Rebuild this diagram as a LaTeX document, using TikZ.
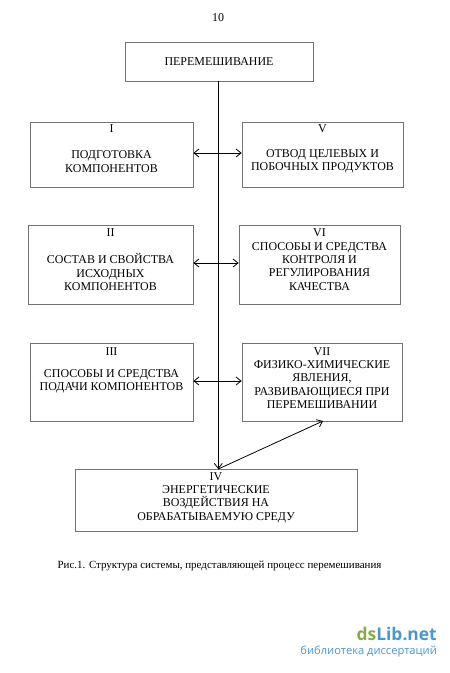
\documentclass[tikz,border=0pt]{standalone}
\usepackage{fontspec}
\setmainfont{Liberation Serif}
\newfontfamily\wmfont{Open Sans}
\usetikzlibrary{arrows.meta}
\definecolor{boxgray}{gray}{0.45}
\definecolor{wmgreen}{HTML}{8AAA4A}
\definecolor{wmblue}{HTML}{4A98CC}
\begin{document}
\begin{tikzpicture}[x=1bp,y=-1bp,
  box/.style={draw=boxgray, line width=0.7bp, rectangle, inner sep=0},
  txt/.style={font=\fontsize{12}{13.4}\selectfont, align=center, inner sep=0},
  num/.style={font=\fontsize{12}{13.4}\selectfont, inner sep=0},
  link/.style={line width=0.8bp, draw=black},
  tip/.style={-{Straight Barb[length=5bp,width=8bp]}},
  dtip/.style={{Straight Barb[length=5bp,width=8bp]}-{Straight Barb[length=5bp,width=8bp]}}]
\useasboundingbox (0,0) rectangle (450,673);
\fill[white] (0,0) rectangle (450,673);
\node[num] (page) at (218,18) {10};
% boxes
\node[box, minimum width=188bp, minimum height=39bp] (top) at (219,61.5) {};
\node[txt] (toptxt) at (219,62) {ПЕРЕМЕШИВАНИЕ};
\node[box, minimum width=163bp, minimum height=65bp] (b1) at (111.5,154.5) {};
\node[num] (n1) at (111.5,128.5) {I};
\node[txt] (t1) at (111.5,161.5) {ПОДГОТОВКА\\КОМПОНЕНТОВ};
\node[box, minimum width=161bp, minimum height=65bp] (b5) at (322.5,154.5) {};
\node[num] (n5) at (322.5,128.5) {V};
\node[txt] (t5) at (322.5,161.5) {ОТВОД ЦЕЛЕВЫХ И\\ПОБОЧНЫХ ПРОДУКТОВ};
\node[box, minimum width=165bp, minimum height=79bp] (b2) at (110.5,264.5) {};
\node[num] (n2) at (110.5,232.5) {II};
\node[txt] (t2) at (110.5,272) {СОСТАВ И СВОЙСТВА\\ИСХОДНЫХ\\КОМПОНЕНТОВ};
\node[box, minimum width=161bp, minimum height=79bp] (b6) at (319.5,264.5) {};
\node[txt] (t6) at (319.5,259.5) {VI\\СПОСОБЫ И СРЕДСТВА\\КОНТРОЛЯ И\\РЕГУЛИРОВАНИЯ\\КАЧЕСТВА};
\node[box, minimum width=163bp, minimum height=78bp] (b3) at (111.5,382) {};
\node[num] (n3) at (111.5,351.5) {III};
\node[txt] (t3) at (111.5,381.5) {СПОСОБЫ И СРЕДСТВА\\ПОДАЧИ КОМПОНЕНТОВ};
\node[box, minimum width=160bp, minimum height=78bp] (b7) at (322,382) {};
\node[txt] (t7) at (322,378) {VII\\ФИЗИКО-ХИМИЧЕСКИЕ\\ЯВЛЕНИЯ,\\РАЗВИВАЮЩИЕСЯ ПРИ\\ПЕРЕМЕШИВАНИИ};
\node[box, minimum width=282bp, minimum height=62bp] (b4) at (216,500) {};
\node[txt] (t4) at (216,497.5) {IV\\ЭНЕРГЕТИЧЕСКИЕ\\ВОЗДЕЙСТВИЯ НА\\ОБРАБАТЫВАЕМУЮ СРЕДУ};
% connectors
\coordinate (vtop) at (218.3,81);
\coordinate (vbot) at (218.3,469);
\coordinate (d7) at (323,421);
\draw[link,tip] (vtop) -- (vbot);
\draw[link,tip] (vbot) -- (d7);
\draw[link,dtip] (b1.east |- 0,153) -- (b5.west |- 0,153);
\draw[link,dtip] (b2.east |- 0,263) -- (b6.west |- 0,263);
\draw[link,dtip] (b3.east |- 0,381) -- (b7.west |- 0,381);
% caption
\node[font=\fontsize{11}{12}\selectfont, inner sep=0] (cap) at (219.5,566) {Рис.1. Структура системы, представляющей процесс перемешивания};
% watermark
\node[font=\wmfont\bfseries\fontsize{17.5}{19}\selectfont, anchor=east, inner sep=0] (wm1) at (437,634) {\textcolor{wmgreen}{ds}\textcolor{wmblue}{Lib.net}};
\node[font=\wmfont\fontsize{11.2}{12}\selectfont, anchor=east, inner sep=0, text=wmblue] (wm2) at (437,652) {библиотека диссертаций};
\end{tikzpicture}
\end{document}
